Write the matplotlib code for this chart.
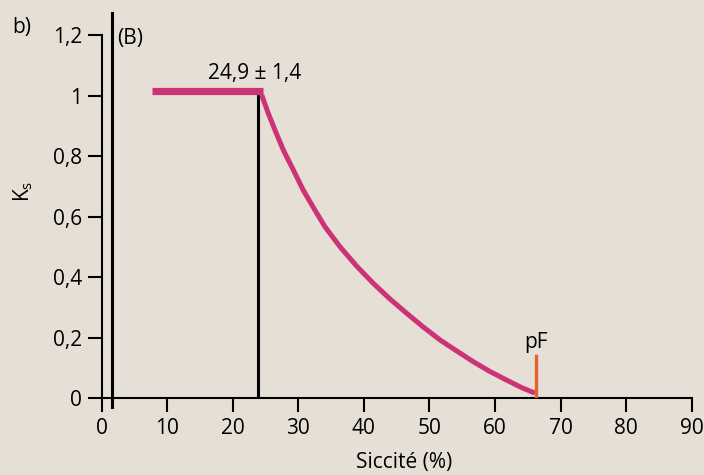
import matplotlib
matplotlib.use("Agg")
import matplotlib.pyplot as plt

# Plateau de K_s avant le point critique
plateau_x = [7.73, 24.66]
plateau_y = [1.017, 1.017]

# Décroissance de K_s
courbe_x = [24.42, 25.42, 26.44, 27.71, 29.24, 30.76, 32.54, 34.07, 36.36, 38.9,
            41.44, 44.0, 46.53, 49.1, 51.61, 54.2, 56.69, 59.2, 61.78, 64.0, 66.1]
courbe_y = [1.003, 0.942, 0.887, 0.821, 0.755, 0.688, 0.622, 0.567, 0.501, 0.437,
            0.380, 0.328, 0.281, 0.235, 0.193, 0.156, 0.121, 0.089, 0.060, 0.036, 0.017]

x_critique = 23.9     # siccité critique
x_pf = 66.3           # point de flétrissement
hauteur_pf = 0.14

xticks = [0, 10, 20, 30, 40, 50, 60, 70, 80, 90]
yticks = [0, 0.2, 0.4, 0.6, 0.8, 1.0, 1.2]
ytick_labels = ["0", "0,2", "0,4", "0,6", "0,8", "1", "1,2"]

FOND = "#e6dfd5"
MAGENTA = "#cc3377"
ORANGE = "#e8602a"

plt.rcParams["font.family"] = ["Open Sans", "DejaVu Sans"]

fig = plt.figure(figsize=(7.04, 4.75), dpi=100, facecolor=FOND)
ax = fig.add_axes([0.1443, 0.1615, 0.8382, 0.7642])
ax.set_facecolor(FOND)

ax.plot(plateau_x, plateau_y, color=MAGENTA, lw=5.2, solid_capstyle="butt", zorder=4)
ax.plot(courbe_x, courbe_y, color=MAGENTA, lw=3.6, solid_capstyle="butt",
        solid_joinstyle="round", zorder=4)
ax.plot([x_critique, x_critique], [0, 1.003], color="black", lw=2.2, zorder=3)
ax.plot([x_pf, x_pf], [0, hauteur_pf], color=ORANGE, lw=2.4, zorder=5)
# double trait vertical à gauche
ax.plot([1.53, 1.53], [-0.03, 1.275], color="black", lw=2.2, clip_on=False, zorder=3)

ax.set_xlim(0, 90)
ax.set_ylim(0, 1.2)
ax.set_xticks(xticks)
ax.set_yticks(yticks)
ax.set_yticklabels(ytick_labels)

for s in ["top", "right"]:
    ax.spines[s].set_visible(False)
for s in ["left", "bottom"]:
    ax.spines[s].set_linewidth(1.5)
ax.tick_params(axis="both", direction="out", length=10, width=1.5,
               labelsize=15, pad=4)

ax.set_xlabel("Siccité (%)", fontsize=15)
ax.xaxis.set_label_coords(0.512, -0.148)
ax.set_ylabel("K$_\\mathregular{s}$", fontsize=15)
ax.yaxis.set_label_coords(-0.112, 0.571)

ax.text(23.4, 1.075, "24,9 ± 1,4", fontsize=15, ha="center", va="center")
ax.text(66.25, 0.183, "pF", fontsize=15, ha="center", va="center")
ax.text(2.35, 1.19, "(B)", fontsize=15, ha="left", va="center")
fig.text(0.017, 0.943, "b)", fontsize=15, ha="left", va="center")

fig.savefig("out.png", dpi=100, facecolor=FOND)
